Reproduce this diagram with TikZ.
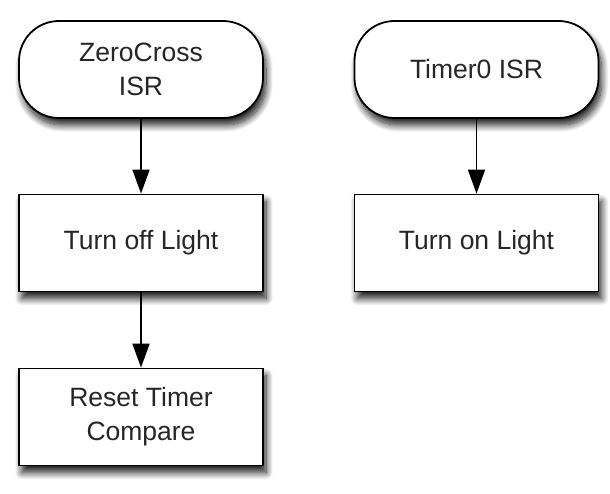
\documentclass[tikz,border=0pt]{standalone}
\usepackage{fontspec}
\setmainfont{Liberation Sans}
\usetikzlibrary{arrows.meta,shadows.blur}
\tikzset{
    isr/.style={draw, line width=1.8pt, fill=white, rounded corners=40pt,
        minimum width=244pt, minimum height=97pt, align=center,
        font=\fontsize{26.5}{34}\selectfont, text=black!85,
        blur shadow={shadow xshift=3pt, shadow yshift=-7pt, shadow blur radius=7pt,
            shadow blur steps=12, shadow opacity=90}},
    task/.style={isr, rounded corners=0pt},
    flow/.style={line width=1.8pt, -{Triangle[width=17pt,length=24pt]}}
}
\begin{document}
\begin{tikzpicture}[x=1pt,y=-1pt]
    \useasboundingbox (0,0) rectangle (610,494);

    % Columna izquierda
    \node[isr] (zc) at (141,69.5) {ZeroCross\\ISR};
    \node[task] (off) at (141,243) {Turn off Light};
    \node[task] (reset) at (141,417) {Reset Timer\\Compare};

    % Columna derecha
    \node[isr] (t0) at (476.5,69.5) {Timer0 ISR};
    \node[task] (on) at (476.5,243) {Turn on Light};

    % Flechas
    \draw[flow] (zc) -- (off);
    \draw[flow] (off) -- (reset);
    \draw[flow] (t0) -- (on);
\end{tikzpicture}
\end{document}
